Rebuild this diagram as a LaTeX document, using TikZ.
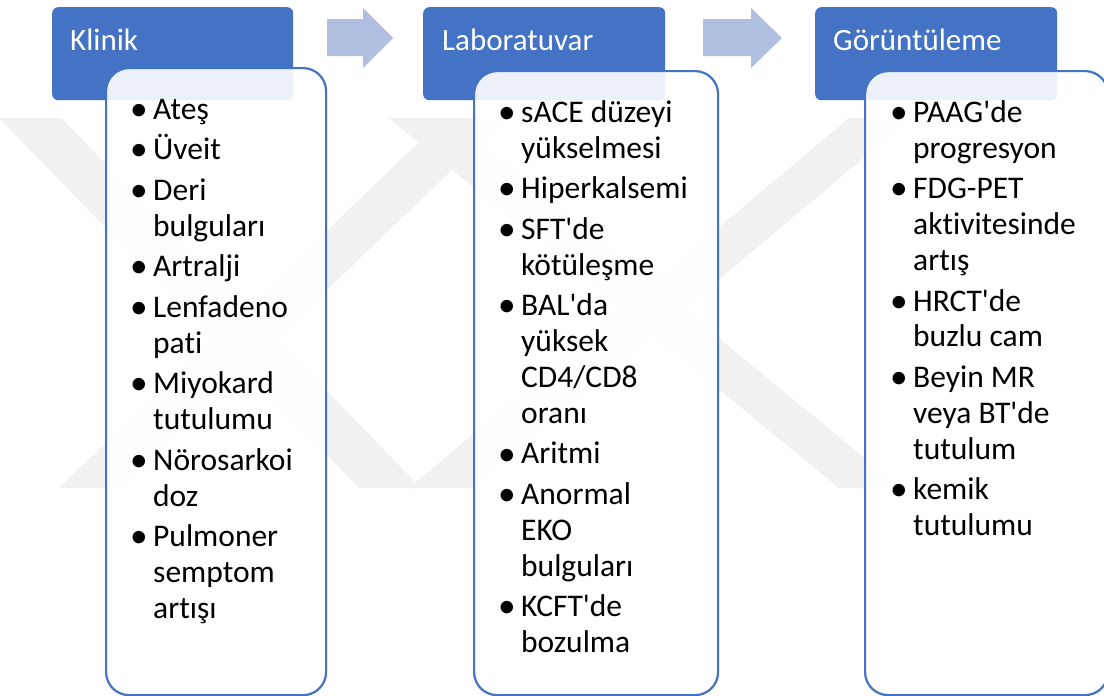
\documentclass[tikz,border=0pt]{standalone}
\usepackage{fontspec}
\setmainfont{Carlito}[Ligatures={NoCommon,NoContextual}]
\definecolor{accent}{HTML}{4472C4}
\definecolor{arrowblue}{HTML}{B0BEDF}
\definecolor{markgray}{HTML}{F1F1F1}
\newcommand\itm{\makebox[23pt][l]{\raisebox{-1pt}{\scalebox{1.12}{\textbullet}}}}
\newcommand\ap{\textquotesingle}
\tikzset{
  header/.style={fill=accent, draw=none, rounded corners=6pt, minimum width=242pt,
    minimum height=93pt, anchor=north west, inner sep=0pt},
  headtext/.style={text=white, font=\fontsize{31}{36}\selectfont, anchor=base west, inner sep=0pt},
  listbox/.style={draw=accent, line width=2.2pt, fill=white, fill opacity=0.9,
    rounded corners=23pt, anchor=north west, inner sep=0pt},
  itemlist/.style={font=\fontsize{31.5}{36}\selectfont, anchor=base west, inner sep=0pt, text=black},
  flowarrow/.style={fill=arrowblue, draw=none},
  wmark/.style={fill=markgray, draw=none}
}
\newcommand\band[2]{\fill[wmark] (#1-31,118) -- (#1+31,118) -- (#2+31,488) -- (#2-31,488) -- cycle;}
\begin{document}
\begin{tikzpicture}[x=1pt, y=-1pt]
  \useasboundingbox (0,0) rectangle (1104,696);
  \fill[white] (0,0) rectangle (1104,696);

  % faint background emblem
  \band{30}{390}
  \band{475}{90}
  \band{420}{870}
  \band{880}{440}

  % block arrows between the stages
  \fill[flowarrow] (327,19) -- (363,19) -- (363,8) -- (393,38) -- (363,68) -- (363,56) -- (327,56) -- cycle;
  \fill[flowarrow] (703,19) -- (751,19) -- (751,8) -- (782,38) -- (751,68) -- (751,56) -- (703,56) -- cycle;

  % stage headers
  \node[header, minimum width=241pt] (h1) at (52,7) {};
  \node[header] (h2) at (423,7) {};
  \node[header] (h3) at (815,7) {};
  \node[headtext] (t1) at (70,50.5) {Klinik};
  \node[headtext] (t2) at (442,50.5) {Laboratuvar};
  \node[headtext] (t3) at (833,50.5) {Görüntüleme};

  % content boxes
  \node[listbox, minimum width=220pt, minimum height=627pt] (b1) at (105,67) {};
  \node[listbox, minimum width=244pt, minimum height=624pt] (b2) at (473,70) {};
  \node[listbox, minimum width=243pt, minimum height=624pt] (b3) at (864,70) {};

  % bullet lists
  \node[itemlist] (l1) at (130,119) {\begin{tabular}[t]{@{}l@{}l@{}}
    \itm & Ateş\\[4.5pt]
    \itm & Üveit\\[4.5pt]
    \itm & Deri\\
         & bulguları\\[4.5pt]
    \itm & Artralji\\[4.5pt]
    \itm & Lenfadeno\\
         & pati\\[4.5pt]
    \itm & Miyokard\\
         & tutulumu\\[4.5pt]
    \itm & Nörosarkoi\\
         & doz\\[4.5pt]
    \itm & Pulmoner\\
         & semptom\\
         & artışı
  \end{tabular}};
  \node[itemlist] (l2) at (498,122) {\begin{tabular}[t]{@{}l@{}l@{}}
    \itm & sACE düzeyi\\
         & yükselmesi\\[4.5pt]
    \itm & Hiperkalsemi\\[4.5pt]
    \itm & SFT\ap de\\
         & kötüleşme\\[4.5pt]
    \itm & BAL\ap da\\
         & yüksek\\
         & CD4/CD8\\
         & oranı\\[4.5pt]
    \itm & Aritmi\\[4.5pt]
    \itm & Anormal\\
         & EKO\\
         & bulguları\\[4.5pt]
    \itm & KCFT\ap de\\
         & bozulma
  \end{tabular}};
  \node[itemlist] (l3) at (890,122) {\begin{tabular}[t]{@{}l@{}l@{}}
    \itm & PAAG\ap de\\
         & progresyon\\[4.5pt]
    \itm & FDG-PET\\
         & aktivitesinde\\
         & artış\\[4.5pt]
    \itm & HRCT\ap de\\
         & buzlu cam\\[4.5pt]
    \itm & Beyin MR\\
         & veya BT\ap de\\
         & tutulum\\[4.5pt]
    \itm & kemik\\
         & tutulumu
  \end{tabular}};
\end{tikzpicture}
\end{document}
